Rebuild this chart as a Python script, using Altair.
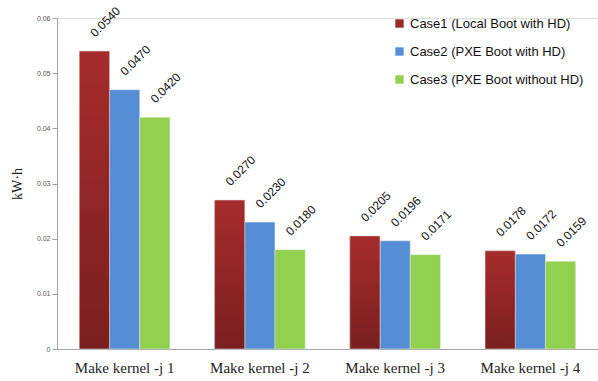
import altair as alt
import pandas as pd

categories = ["Make kernel -j 1", "Make kernel -j 2", "Make kernel -j 3", "Make kernel -j 4"]
series = ["Case1 (Local Boot with HD)", "Case2 (PXE Boot with HD)", "Case3 (PXE Boot without HD)"]
case1 = [0.0540, 0.0270, 0.0205, 0.0178]
case2 = [0.0470, 0.0230, 0.0196, 0.0172]
case3 = [0.0420, 0.0180, 0.0171, 0.0159]
colors = ["#9A2A2A", "#558ED5", "#92D050"]

rows = []
for s, vals in zip(series, [case1, case2, case3]):
    for c, v in zip(categories, vals):
        rows.append({"category": c, "series": s, "value": v})
df = pd.DataFrame(rows)

x = alt.X("category:N", sort=categories, title=None,
          scale=alt.Scale(paddingInner=0.33, paddingOuter=0.165),
          axis=alt.Axis(labelAngle=0, labelFont="Liberation Serif", labelFontSize=15,
                        labelColor="#222222", ticks=False, domainColor="#A0A0A0",
                        labelPadding=11))
xo = alt.XOffset("series:N", sort=series,
                 scale=alt.Scale(domain=series, paddingInner=0, paddingOuter=0))
y = alt.Y("value:Q", scale=alt.Scale(domain=[0, 0.06]),
          axis=alt.Axis(values=[0, 0.01, 0.02, 0.03, 0.04, 0.05, 0.06],
                        labelExpr="datum.value == 0 ? '0' : format(datum.value, '.2f')",
                        labelFontSize=7, labelColor="#555555", labelFont="Liberation Sans",
                        grid=False, domainColor="#A0A0A0", tickColor="#A0A0A0", tickSize=5,
                        title="kW·h", titleFont="Liberation Serif", titleFontSize=14,
                        titleFontWeight="normal", titleColor="#222222", titlePadding=12))

color = alt.Color("series:N", sort=series, scale=alt.Scale(domain=series, range=colors),
                  legend=alt.Legend(title=None, orient="none", legendX=336, legendY=-1,
                                    symbolType="square", symbolSize=70, symbolStrokeWidth=0,
                                    labelFont="Liberation Sans", labelFontSize=13,
                                    labelColor="#111111", rowPadding=14, labelLimit=300))

bars = alt.Chart(df).mark_bar(stroke="#E8E8E8", strokeWidth=0.5).encode(
    x=x, xOffset=xo, y=y, color=color)

red_grad = alt.Gradient(gradient="linear", x1=0, x2=0, y1=0, y2=1,
                        stops=[alt.GradientStop(color="#A62C2C", offset=0),
                               alt.GradientStop(color="#7A1F1F", offset=1)])
red_bars = alt.Chart(df).transform_filter(
    alt.datum.series == series[0]
).mark_bar(fill=red_grad, stroke="#E8E8E8", strokeWidth=0.5).encode(
    x=x, xOffset=xo, y=y)

labels = alt.Chart(df).mark_text(angle=315, align="left", baseline="alphabetic",
                                 font="Liberation Sans", fontSize=12, color="#111111",
                                 dx=10, dy=-9).encode(
    x=x, xOffset=xo, y=y, text=alt.Text("value:Q", format=".4f"))

chart = alt.layer(bars, red_bars, labels).properties(
    width=541, height=331,
    autosize=alt.AutoSizeParams(type="none"),
    padding={"left": 57, "top": 18, "right": 0, "bottom": 32},
).configure_view(stroke=None).configure(background="white")

chart.save("out.html", embed_options={"renderer": "svg", "actions": False})
